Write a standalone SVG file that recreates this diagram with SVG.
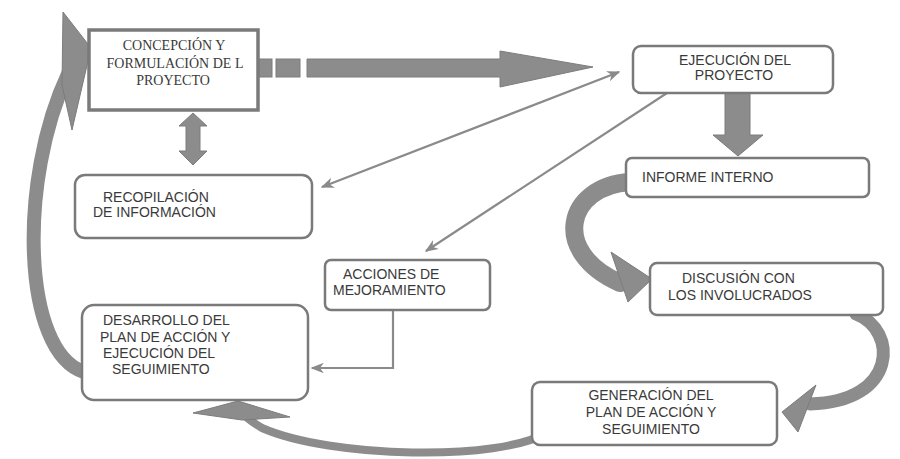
<svg xmlns="http://www.w3.org/2000/svg" width="900" height="459" viewBox="0 0 900 459">
<style>
.box{fill:#fff;stroke:#7a7a7a;stroke-width:2.5}
.sq{fill:#fff;stroke:#7a7a7a;stroke-width:3.5}
.t{font-family:"Liberation Sans",Arial,sans-serif;font-size:14px;fill:#3a3a3a}
.s{font-family:"Liberation Serif","Times New Roman",serif;font-size:14px;fill:#3a3a3a}
.fat{fill:#8c8c8c;stroke:#7c7c7c;stroke-width:1}
.thick{fill:none;stroke:#8c8c8c;stroke-linecap:round}
.thin{fill:none;stroke:#8a8a8a;stroke-width:2.2}
</style>
<defs>
<marker id="ah" viewBox="0 0 10 10" refX="9" refY="5" markerWidth="6" markerHeight="6" orient="auto-start-reverse" markerUnits="strokeWidth">
<path d="M0,1 L10,5 L0,9 L3,5 z" fill="#8a8a8a"/>
</marker>
</defs>
<rect width="900" height="459" fill="#fff"/>
<g id="connectors">
<rect class="fat" x="258" y="59" width="14" height="18"/>
<rect class="fat" x="276" y="59" width="24" height="18"/>
<path class="fat" d="M307,59 H500 V51 L593,67 L500,87 V77 H307 Z"/>
<path class="fat" d="M193,113 L207,126 H200 V151 H207 L193,165 L179,151 H186 V126 H179 Z"/>
<path class="fat" d="M725,93 H750 V135 H763 L738,156 L713,135 H725 Z"/>
<line class="thin" x1="322" y1="187" x2="619" y2="72" marker-start="url(#ah)" marker-end="url(#ah)"/>
<line class="thin" x1="667" y1="93" x2="426" y2="251" marker-end="url(#ah)"/>
<path class="thin" d="M393,310 V368 H312" marker-end="url(#ah)"/>
<path class="thick" stroke-width="14" d="M84,372 C22,352 18,180 68,74"/>
<path class="fat" d="M63,12 L91,48 L72,130 L62,85 Z"/>
<path class="thick" stroke-width="18" stroke-linecap="butt" d="M630,182 C566,186 550,252 620,283"/>
<path class="fat" d="M611,252 L652,279 L628,302 Z"/>
<path class="thick" stroke-width="13" stroke-linecap="butt" d="M856,314 C898,330 898,402 810,404"/>
<path class="fat" d="M816,385 L782,412 L798,432 Z"/>
<path class="thick" stroke-width="8" d="M548,432 C500,462 330,458 262,428 C250,421 244,416 240,410"/>
<path class="fat" d="M193,413 L238,401 L290,417 L242,420 Z"/>
</g>
<g id="concepcion">
<rect class="sq" x="89" y="30" width="169" height="80"/>
<text class="s" text-anchor="middle" x="174" y="50">CONCEPCIÓN Y</text>
<text class="s" text-anchor="middle" x="175" y="68">FORMULACIÓN  DE L</text>
<text class="s" text-anchor="middle" x="173" y="85">PROYECTO</text>
</g>
<g id="ejecucion">
<rect class="box" x="633" y="46" width="200" height="47" rx="8"/>
<text class="t" text-anchor="middle" x="735" y="65">EJECUCIÓN DEL</text>
<text class="t" text-anchor="middle" x="734" y="80">PROYECTO</text>
</g>
<g id="informe">
<rect class="box" x="626" y="158" width="243" height="39" rx="6"/>
<text class="t" x="642" y="182">INFORME INTERNO</text>
</g>
<g id="recopilacion">
<rect class="box" x="75" y="175" width="237" height="63" rx="10"/>
<text class="t" x="103" y="202">RECOPILACIÓN</text>
<text class="t" x="93" y="217">DE INFORMACIÓN</text>
</g>
<g id="acciones">
<rect class="box" x="325" y="260" width="165" height="50" rx="6"/>
<text class="t" x="343" y="279">ACCIONES DE</text>
<text class="t" x="333" y="295">MEJORAMIENTO</text>
</g>
<g id="discusion">
<rect class="box" x="650" y="263" width="233" height="52" rx="7"/>
<text class="t" x="682" y="283">DISCUSIÓN CON</text>
<text class="t" x="668" y="300">LOS INVOLUCRADOS</text>
</g>
<g id="desarrollo">
<rect class="box" x="82" y="305" width="226" height="95" rx="12"/>
<text class="t" x="103" y="325">DESARROLLO DEL</text>
<text class="t" x="100" y="342">PLAN DE ACCIÓN Y</text>
<text class="t" x="103" y="358">EJECUCIÓN DEL</text>
<text class="t" x="112" y="374">SEGUIMIENTO</text>
</g>
<g id="generacion">
<rect class="box" x="532" y="382" width="245" height="63" rx="8"/>
<text class="t" text-anchor="middle" x="651" y="400">GENERACIÓN DEL</text>
<text class="t" text-anchor="middle" x="651" y="417">PLAN DE ACCIÓN Y</text>
<text class="t" text-anchor="middle" x="651" y="434">SEGUIMIENTO</text>
</g>
</svg>
